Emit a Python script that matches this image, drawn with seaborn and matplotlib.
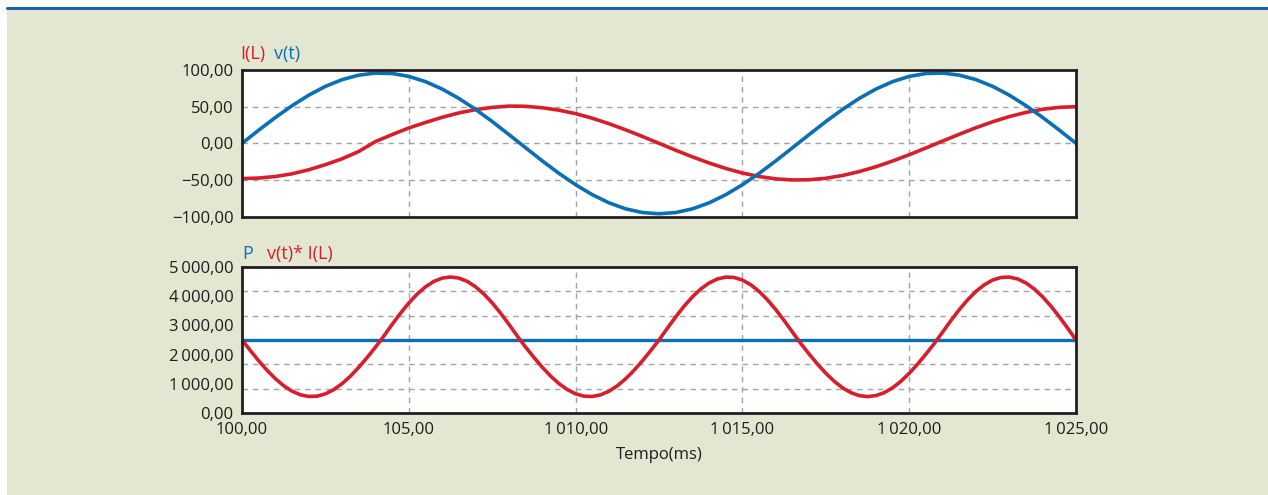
import numpy as np
import pandas as pd
import matplotlib
matplotlib.use('Agg')
import matplotlib.pyplot as plt
import seaborn as sns
from matplotlib.patches import Rectangle
from matplotlib.lines import Line2D

# tempo em ms (amostras a cada 0,5 ms para I e v, 0,25 ms para o produto)
tempo = np.arange(1000, 1025.5, 0.5)
tempo_p = np.arange(1000, 1025.25, 0.25)

# I(L) - corrente no indutor
corrente = [-48, -47.3, -45.2, -41.5, -36, -29, -21, -11, 2.5, 12, 21, 28.5, 35.5, 41.5, 46, 49,
            50.8, 50.5, 48.5, 45.2, 40.5, 34.2, 26.8, 18.4, 9.4, 0, -9.4, -18.4, -26.8, -34.2,
            -40.5, -45.2, -48.4, -49.9, -49.6, -47.6, -43.8, -38.5, -31.9, -24.1, -15.5, -6.3,
            3.1, 12.4, 21.3, 29.4, 36.5, 42.2, 46.5, 49.1, 50]

# v(t) - tensao
tensao = [0, 18.0, 35.3, 51.4, 65.7, 77.7, 86.9, 93.0, 95.8, 95.2, 91.3, 84.1, 74.0, 61.2, 46.3,
          29.7, 12.0, -6.0, -23.9, -40.9, -56.4, -70.0, -81.1, -89.3, -94.3, -96.0, -94.3, -89.3,
          -81.1, -70.0, -56.4, -40.9, -23.9, -6.0, 12.0, 29.7, 46.3, 61.2, 74.0, 84.1, 91.3, 95.2,
          95.8, 93.0, 86.9, 77.7, 65.7, 51.4, 35.3, 18.0, 0]

# P - potencia media
potencia = [2500] * len(tempo)

# v(t) * I(L)
produto = [2500, 2138, 1790, 1466, 1179, 939, 754, 631, 574, 585, 664, 809, 1013, 1270, 1570,
           1904, 2258, 2635, 3035, 3415, 3764, 4067, 4315, 4499, 4612, 4650, 4612, 4499, 4315,
           4067, 3764, 3415, 3035, 2635, 2258, 1904, 1570, 1270, 1013, 809, 664, 585, 574, 631,
           754, 939, 1179, 1466, 1790, 2138, 2500, 2903, 3291, 3652, 3972, 4239, 4445, 4582,
           4646, 4633, 4545, 4384, 4157, 3870, 3536, 3164, 2769, 2379, 2020, 1678, 1366, 1093,
           870, 705, 604, 570, 604, 705, 870, 1093, 1366, 1678, 2020, 2379, 2769, 3164, 3536,
           3870, 4157, 4384, 4545, 4633, 4646, 4582, 4445, 4239, 3972, 3652, 3291, 2903, 2500]

x_ticks = [1000, 1005, 1010, 1015, 1020, 1025]
x_labels = ['100,00', '105,00', '1\u2009010,00', '1\u2009015,00', '1\u2009020,00', '1\u2009025,00']
y1_ticks = [-100, -50, 0, 50, 100]
y1_labels = ['\u2212100,00', '\u221250,00', '0,00', '50,00', '100,00']
y2_ticks = [0, 1000, 2000, 3000, 4000, 5000]
y2_labels = ['0,00', '1\u2009000,00', '2\u2009000,00', '3\u2009000,00', '4\u2009000,00', '5\u2009000,00']

df_top = pd.DataFrame({'Tempo': tempo, 'I(L)': corrente, 'v(t)': tensao})
df_p = pd.DataFrame({'Tempo': tempo, 'P': potencia})
df_prod = pd.DataFrame({'Tempo': tempo_p, 'v(t)*I(L)': produto})

red = '#D81E2B'
blue = '#0A70B6'
bg = '#E3E7D1'
txt = '#1E1C1D'
grid_kw = dict(color='#A3A3A3', linestyle=(0, (4, 3.5)), linewidth=1)

sns.set_style('white')
plt.rcParams['font.family'] = ['Open Sans', 'DejaVu Sans']

fig = plt.figure(figsize=(12.68, 4.95), dpi=100)
fig.patch.set_facecolor('white')
fig.add_artist(Rectangle((7 / 1268, 0), 1, 1 - 9 / 495, transform=fig.transFigure,
                         facecolor=bg, edgecolor='none', zorder=-10))
fig.add_artist(Line2D([7 / 1268, 1], [1 - 8 / 495] * 2, color='#1E5FA5', lw=2.2))

ax1 = fig.add_axes([0.1909, 0.5622, 0.6577, 0.2964])
ax2 = fig.add_axes([0.1909, 0.1650, 0.6577, 0.2962])

sns.lineplot(data=df_top, x='Tempo', y='I(L)', color=red, lw=2.6, ax=ax1)
sns.lineplot(data=df_top, x='Tempo', y='v(t)', color=blue, lw=2.6, ax=ax1)
sns.lineplot(data=df_p, x='Tempo', y='P', color=blue, lw=2.4, ax=ax2)
sns.lineplot(data=df_prod, x='Tempo', y='v(t)*I(L)', color=red, lw=2.6, ax=ax2)

for ax in (ax1, ax2):
    ax.set_facecolor('white')
    ax.set_xlim(1000, 1025)
    ax.set_xticks(x_ticks)
    ax.set_xlabel('')
    ax.set_ylabel('')
    ax.xaxis.grid(True, **grid_kw)
    ax.tick_params(length=0, labelsize=12, labelcolor=txt, pad=6)
    for s in ax.spines.values():
        s.set_visible(True)
        s.set_color('#231F20')
        s.set_linewidth(2)

ax1.set_ylim(-100, 100)
ax1.set_yticks(y1_ticks)
ax1.set_yticklabels(y1_labels)
ax1.yaxis.grid(True, **grid_kw)
ax1.tick_params(labelbottom=False)

ax2.set_ylim(0, 5000)
ax2.set_yticks(y2_ticks)
ax2.set_yticklabels(y2_labels)
ax2.set_yticks([5000 * i / 6 for i in range(1, 6)], minor=True)
ax2.tick_params(which='minor', length=0)
ax2.yaxis.grid(True, which='minor', **grid_kw)
ax2.set_xticklabels(x_labels)
ax2.set_xlabel('Tempo(ms)', fontsize=12, color=txt, labelpad=7)

# rotulos das series
ax1.text(-0.002, 1.11, 'I(L)', color=red, fontsize=13, transform=ax1.transAxes, va='center', ha='left')
ax1.text(0.038, 1.11, 'v(t)', color=blue, fontsize=13, transform=ax1.transAxes, va='center', ha='left')
ax2.text(0.0, 1.09, 'P', color=blue, fontsize=13, transform=ax2.transAxes, va='center', ha='left')
ax2.text(0.030, 1.09, 'v(t)* I(L)', color=red, fontsize=13, transform=ax2.transAxes, va='center', ha='left')

fig.savefig('out.png', dpi=100, facecolor=fig.get_facecolor())
